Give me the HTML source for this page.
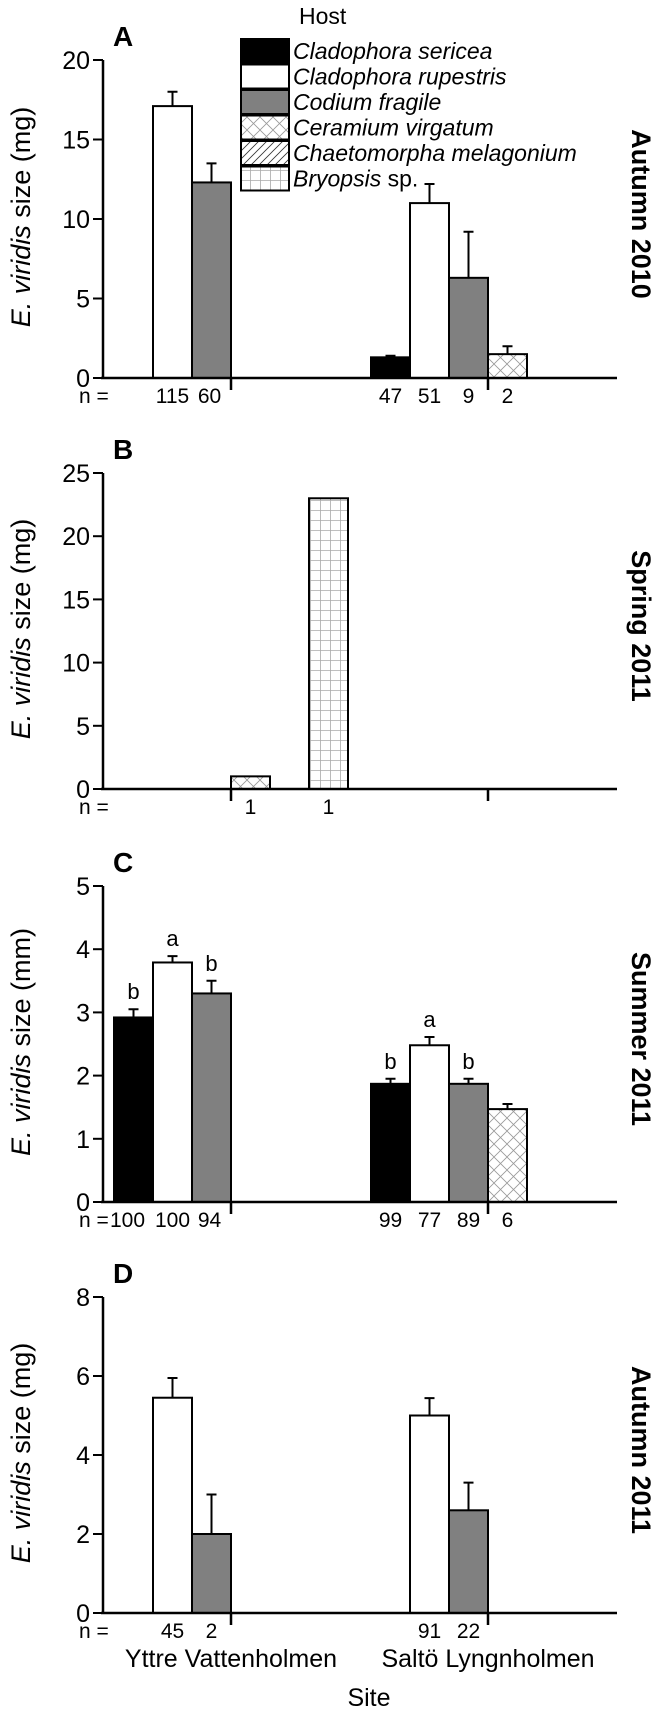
<!DOCTYPE html>
<html><head><meta charset="utf-8"><style>
html,body{margin:0;padding:0;background:#fff}
svg{display:block;font-family:"Liberation Sans",Arial,sans-serif}
</style></head><body>
<svg id="fig" width="658" height="1713" viewBox="0 0 658 1713" xmlns="http://www.w3.org/2000/svg">
<defs>
<pattern id="cross" patternUnits="userSpaceOnUse" width="13" height="13">
<rect width="13" height="13" fill="#fff"/>
<path d="M0,0L13,13M13,0L0,13" stroke="#999" stroke-width="0.8"/>
</pattern>
<pattern id="diag" patternUnits="userSpaceOnUse" width="8" height="8">
<rect width="8" height="8" fill="#fff"/>
<path d="M0,8L8,0M-2,2L2,-2M6,10L10,6" stroke="#333" stroke-width="0.8"/>
</pattern>
<pattern id="grid" patternUnits="userSpaceOnUse" width="10" height="10">
<rect width="10" height="10" fill="#fff"/>
<path d="M0,0.5H10M0.5,0V10" stroke="#aaa" stroke-width="0.8"/>
</pattern>
</defs>
<g id="root"></g>
</svg>
<script>
// Host categories / fills
const hosts = ["Cladophora sericea","Cladophora rupestris","Codium fragile","Ceramium virgatum","Chaetomorpha melagonium","Bryopsis sp."];
const fills = ["#000","#fff","#808080","url(#cross)","url(#diag)","url(#grid)"];

// Panel A (Autumn 2010)
const aSite = [0,0,1,1,1,1];
const aHost = [1,2,0,1,2,3];
const aVal = [17.1,12.3,1.3,11.0,6.3,1.5];
const aErr = [0.9,1.2,0.1,1.2,2.9,0.5];
const aN = ["115","60","47","51","9","2"];
const aTicks = [0,5,10,15,20];

// Panel B (Spring 2011)
const bSite = [0,0];
const bHost = [3,5];
const bVal = [1.0,23.0];
const bErr = [0,0];
const bN = ["1","1"];
const bTicks = [0,5,10,15,20,25];

// Panel C (Summer 2011)
const cSite = [0,0,0,1,1,1,1];
const cHost = [0,1,2,0,1,2,3];
const cVal = [2.92,3.79,3.3,1.87,2.48,1.87,1.47];
const cErr = [0.13,0.1,0.2,0.08,0.13,0.08,0.08];
const cN = ["100","100","94","99","77","89","6"];
const cLetters = ["b","a","b","b","a","b",""];
const cTicks = [0,1,2,3,4,5];

// Panel D (Autumn 2011)
const dSite = [0,0,1,1];
const dHost = [1,2,1,2];
const dVal = [5.45,2.0,5.0,2.6];
const dErr = [0.5,1.0,0.44,0.7];
const dN = ["45","2","91","22"];
const dTicks = [0,2,4,6,8];

const sites = ["Yttre Vattenholmen","Saltö Lyngnholmen"];

const NS="http://www.w3.org/2000/svg";
const root=document.getElementById('root');
function mk(tag,attrs,parent){const e=document.createElementNS(NS,tag);for(const k in attrs)e.setAttribute(k,attrs[k]);(parent||root).appendChild(e);return e;}

const AX=103, XEND=617, BW=39;
function slotX(site,host,isB){
  if(isB) return host===3?231:309;
  const base = site===0?114:371;
  return base + host*BW;
}

function panel(o){
  const g=mk('g',{});
  
  
  const y0=o.y0, yTop=o.yTop, max=o.ticks[o.ticks.length-1];
  const yS=v=>y0-(v/max)*(y0-yTop);
  for(let i=0;i<o.val.length;i++){
    const x=slotX(o.site[i],o.host[i],o.isB);
    const y=yS(o.val[i]);
    const b=mk('rect',{x:x,y:y,width:BW,height:y0-y,fill:fills[o.host[i]],stroke:'#000','stroke-width':2},g);
    
    
    if(o.err[i]>0){
      const ye=yS(o.val[i]+o.err[i]);const cx=x+BW/2;
      const e=mk('path',{d:`M${cx},${y}V${ye}M${cx-5},${ye}H${cx+5}`,stroke:'#000','stroke-width':2,fill:'none'},g);
      
      
      if(o.letters&&o.letters[i]){
        const t=mk('text',{x:cx,y:ye-10,'font-size':22,'text-anchor':'middle'},g);t.textContent=o.letters[i];
        
        
      }
    }
    const n=mk('text',{x:x+BW/2+(o.nShift?o.nShift[i]:0),y:y0+25,'font-size':21,'text-anchor':'middle'},g);n.textContent=o.n[i];
    
    
  }
  const ax=mk('path',{d:`M${AX},${yTop}V${y0}M${AX-2},${y0}H${XEND}M231,${y0}V${y0+12}M488,${y0}V${y0+12}`,stroke:'#000','stroke-width':2.5,fill:'none'},g);
  
  
  for(const t of o.ticks){
    const y=yS(t);
    mk('path',{d:`M${AX-10},${y}H${AX}`,stroke:'#000','stroke-width':2},g);
    const tl=mk('text',{x:AX-13,y:y+9,'font-size':25,'text-anchor':'end'},g);tl.textContent=t;
    
    
  }
  const nl=mk('text',{x:79,y:y0+25,'font-size':21},g);nl.textContent='n =';
  
  
  const pl=mk('text',{x:113,y:yTop-14,'font-size':28,'font-weight':'bold'},g);pl.textContent=o.letter;
  
  
  const cy=(y0+yTop)/2;
  const yt=mk('text',{x:0,y:0,'font-size':27,'text-anchor':'middle',transform:`translate(30,${cy-2}) rotate(-90)`},g);
  yt.innerHTML='<tspan font-style="italic">E. viridis</tspan> size ('+o.unit+')';
  
  
  const st=mk('text',{x:0,y:0,'font-size':27,'font-weight':'bold','text-anchor':'middle',transform:`translate(632,${cy-5}) rotate(90)`},g);
  st.textContent=o.season;
  
  
}

panel({name:'panel-a',key:'a',site:aSite,host:aHost,val:aVal,err:aErr,n:aN,ticks:aTicks,y0:378,yTop:60,letter:'A',unit:'mg',season:'Autumn 2010',nShift:[0,-2,0,0,0,0]});
panel({name:'panel-b',key:'b',site:bSite,host:bHost,val:bVal,err:bErr,n:bN,ticks:bTicks,y0:789,yTop:473,letter:'B',unit:'mg',season:'Spring 2011',isB:true});
panel({name:'panel-c',key:'c',site:cSite,host:cHost,val:cVal,err:cErr,n:cN,ticks:cTicks,y0:1202,yTop:886,letter:'C',unit:'mm',season:'Summer 2011',letters:cLetters,nShift:[-6,0,-2,0,0,0,0]});
panel({name:'panel-d',key:'d',site:dSite,host:dHost,val:dVal,err:dErr,n:dN,ticks:dTicks,y0:1613,yTop:1297,letter:'D',unit:'mg',season:'Autumn 2011'});

// Legend
const lg=mk('g',{});


const ht=mk('text',{x:299,y:24,'font-size':23},lg);ht.textContent='Host';


for(let i=0;i<hosts.length;i++){
  const y=39+i*25.5;
  const r=mk('rect',{x:241,y:y,width:48,height:24,fill:fills[i],stroke:'#000','stroke-width':2},lg);
  
  
  const t=mk('text',{x:293,y:y+20,'font-size':23},lg);
  if(i===5) t.innerHTML='<tspan font-style="italic">Bryopsis</tspan> sp.';
  else {t.textContent=hosts[i];t.setAttribute('font-style','italic');}
  
  
}

for(let s=0;s<sites.length;s++){
  const t=mk('text',{x:s===0?231:488,y:1667,'font-size':25,'text-anchor':'middle'});
  t.textContent=sites[s];
  
  
}
const xt=mk('text',{x:369,y:1706,'font-size':25,'text-anchor':'middle'});
xt.textContent='Site';


</script>
</body></html>
